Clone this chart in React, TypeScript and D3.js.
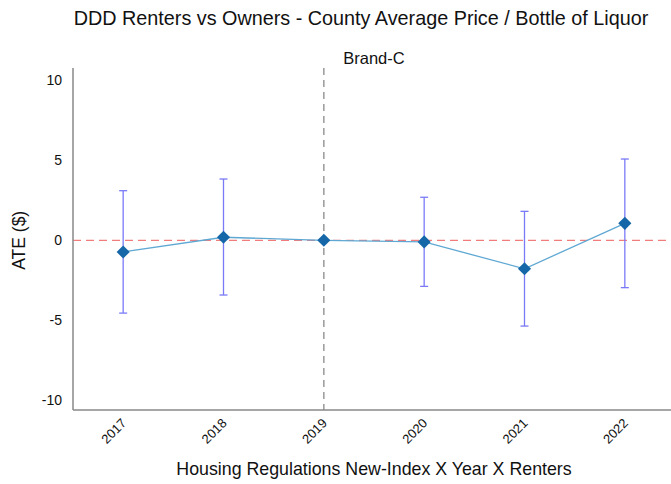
import React from "react";
import * as d3 from "d3";

const years = ["2017", "2018", "2019", "2020", "2021", "2022"];
const ate = [-0.73, 0.19, 0.0, -0.1, -1.78, 1.06];
const ciLow = [-4.55, -3.42, 0.0, -2.88, -5.36, -2.96];
const ciHigh = [3.1, 3.83, 0.0, 2.69, 1.81, 5.08];
const yTicks = [-10, -5, 0, 5, 10];
const refYear = "2019";

const W = 671;
const H = 484;
const left = 73;
const right = 675;
const top = 68;
const bottom = 410;

export default function App() {
  const x = d3.scalePoint<string>().domain(years).range([left, right]).padding(0.5);
  const y = d3.scaleLinear().domain([-10, 10]).range([400.3, 80.3]);
  const line = d3
    .line<number>()
    .x((_, i) => x(years[i]) as number)
    .y((d) => y(d));
  const font = "'Liberation Sans', Arial, Helvetica, sans-serif";
  const diamond = d3.symbol().type(d3.symbolDiamond2).size(110)();
  return (
    <svg width={W} height={H} style={{ position: "absolute", left: 0, top: 0 }} fontFamily={font}>
      <rect x={0} y={0} width={W} height={H} fill="#fff" />
      <text x={361} y={25} textAnchor="middle" fontSize={19.8} fill="#111">
        DDD Renters vs Owners - County Average Price / Bottle of Liquor
      </text>
      <text x={374} y={64} textAnchor="middle" fontSize={16.5} fill="#111">
        Brand-C
      </text>
      {/* zero line */}
      <line x1={left} x2={W} y1={y(0)} y2={y(0)} stroke="#f07c7c" strokeWidth={1.2} strokeDasharray="8,5" />
      {/* reference vertical */}
      <line x1={x(refYear)} x2={x(refYear)} y1={top} y2={bottom} stroke="#999" strokeWidth={1.5} strokeDasharray="7,5" />
      {/* error bars */}
      {years.map((yr, i) =>
        ciHigh[i] !== ciLow[i] ? (
          <g key={yr} stroke="#7a7af7" strokeWidth={1.3}>
            <line x1={x(yr)} x2={x(yr)} y1={y(ciLow[i])} y2={y(ciHigh[i])} />
            <line x1={(x(yr) as number) - 4} x2={(x(yr) as number) + 4} y1={y(ciLow[i])} y2={y(ciLow[i])} />
            <line x1={(x(yr) as number) - 4} x2={(x(yr) as number) + 4} y1={y(ciHigh[i])} y2={y(ciHigh[i])} />
          </g>
        ) : null
      )}
      <path d={line(ate) || ""} fill="none" stroke="#5fa8d3" strokeWidth={1.3} />
      {years.map((yr, i) => (
        <path key={yr} d={diamond || ""} transform={`translate(${x(yr)},${y(ate[i])})`} fill="#1667a8" />
      ))}
      {/* axes */}
      <line x1={left} x2={left} y1={top} y2={bottom} stroke="#888" strokeWidth={1.5} />
      <line x1={left} x2={W} y1={bottom} y2={bottom} stroke="#888" strokeWidth={1.5} />
      {yTicks.map((t) => (
        <text key={t} x={62} y={y(t)} dy="0.35em" textAnchor="end" fontSize={14} fill="#111">
          {t}
        </text>
      ))}
      {years.map((yr) => (
        <text
          key={yr}
          transform={`translate(${(x(yr) as number) + 4},${424}) rotate(-45)`}
          textAnchor="end"
          fontSize={13}
          fill="#111"
        >
          {yr}
        </text>
      ))}
      <text transform={`translate(25,${y(0)}) rotate(-90)`} textAnchor="middle" fontSize={17.5} fill="#111">
        ATE ($)
      </text>
      <text x={374} y={475} textAnchor="middle" fontSize={17.8} fill="#111">
        Housing Regulations New-Index X Year X Renters
      </text>
    </svg>
  );
}
